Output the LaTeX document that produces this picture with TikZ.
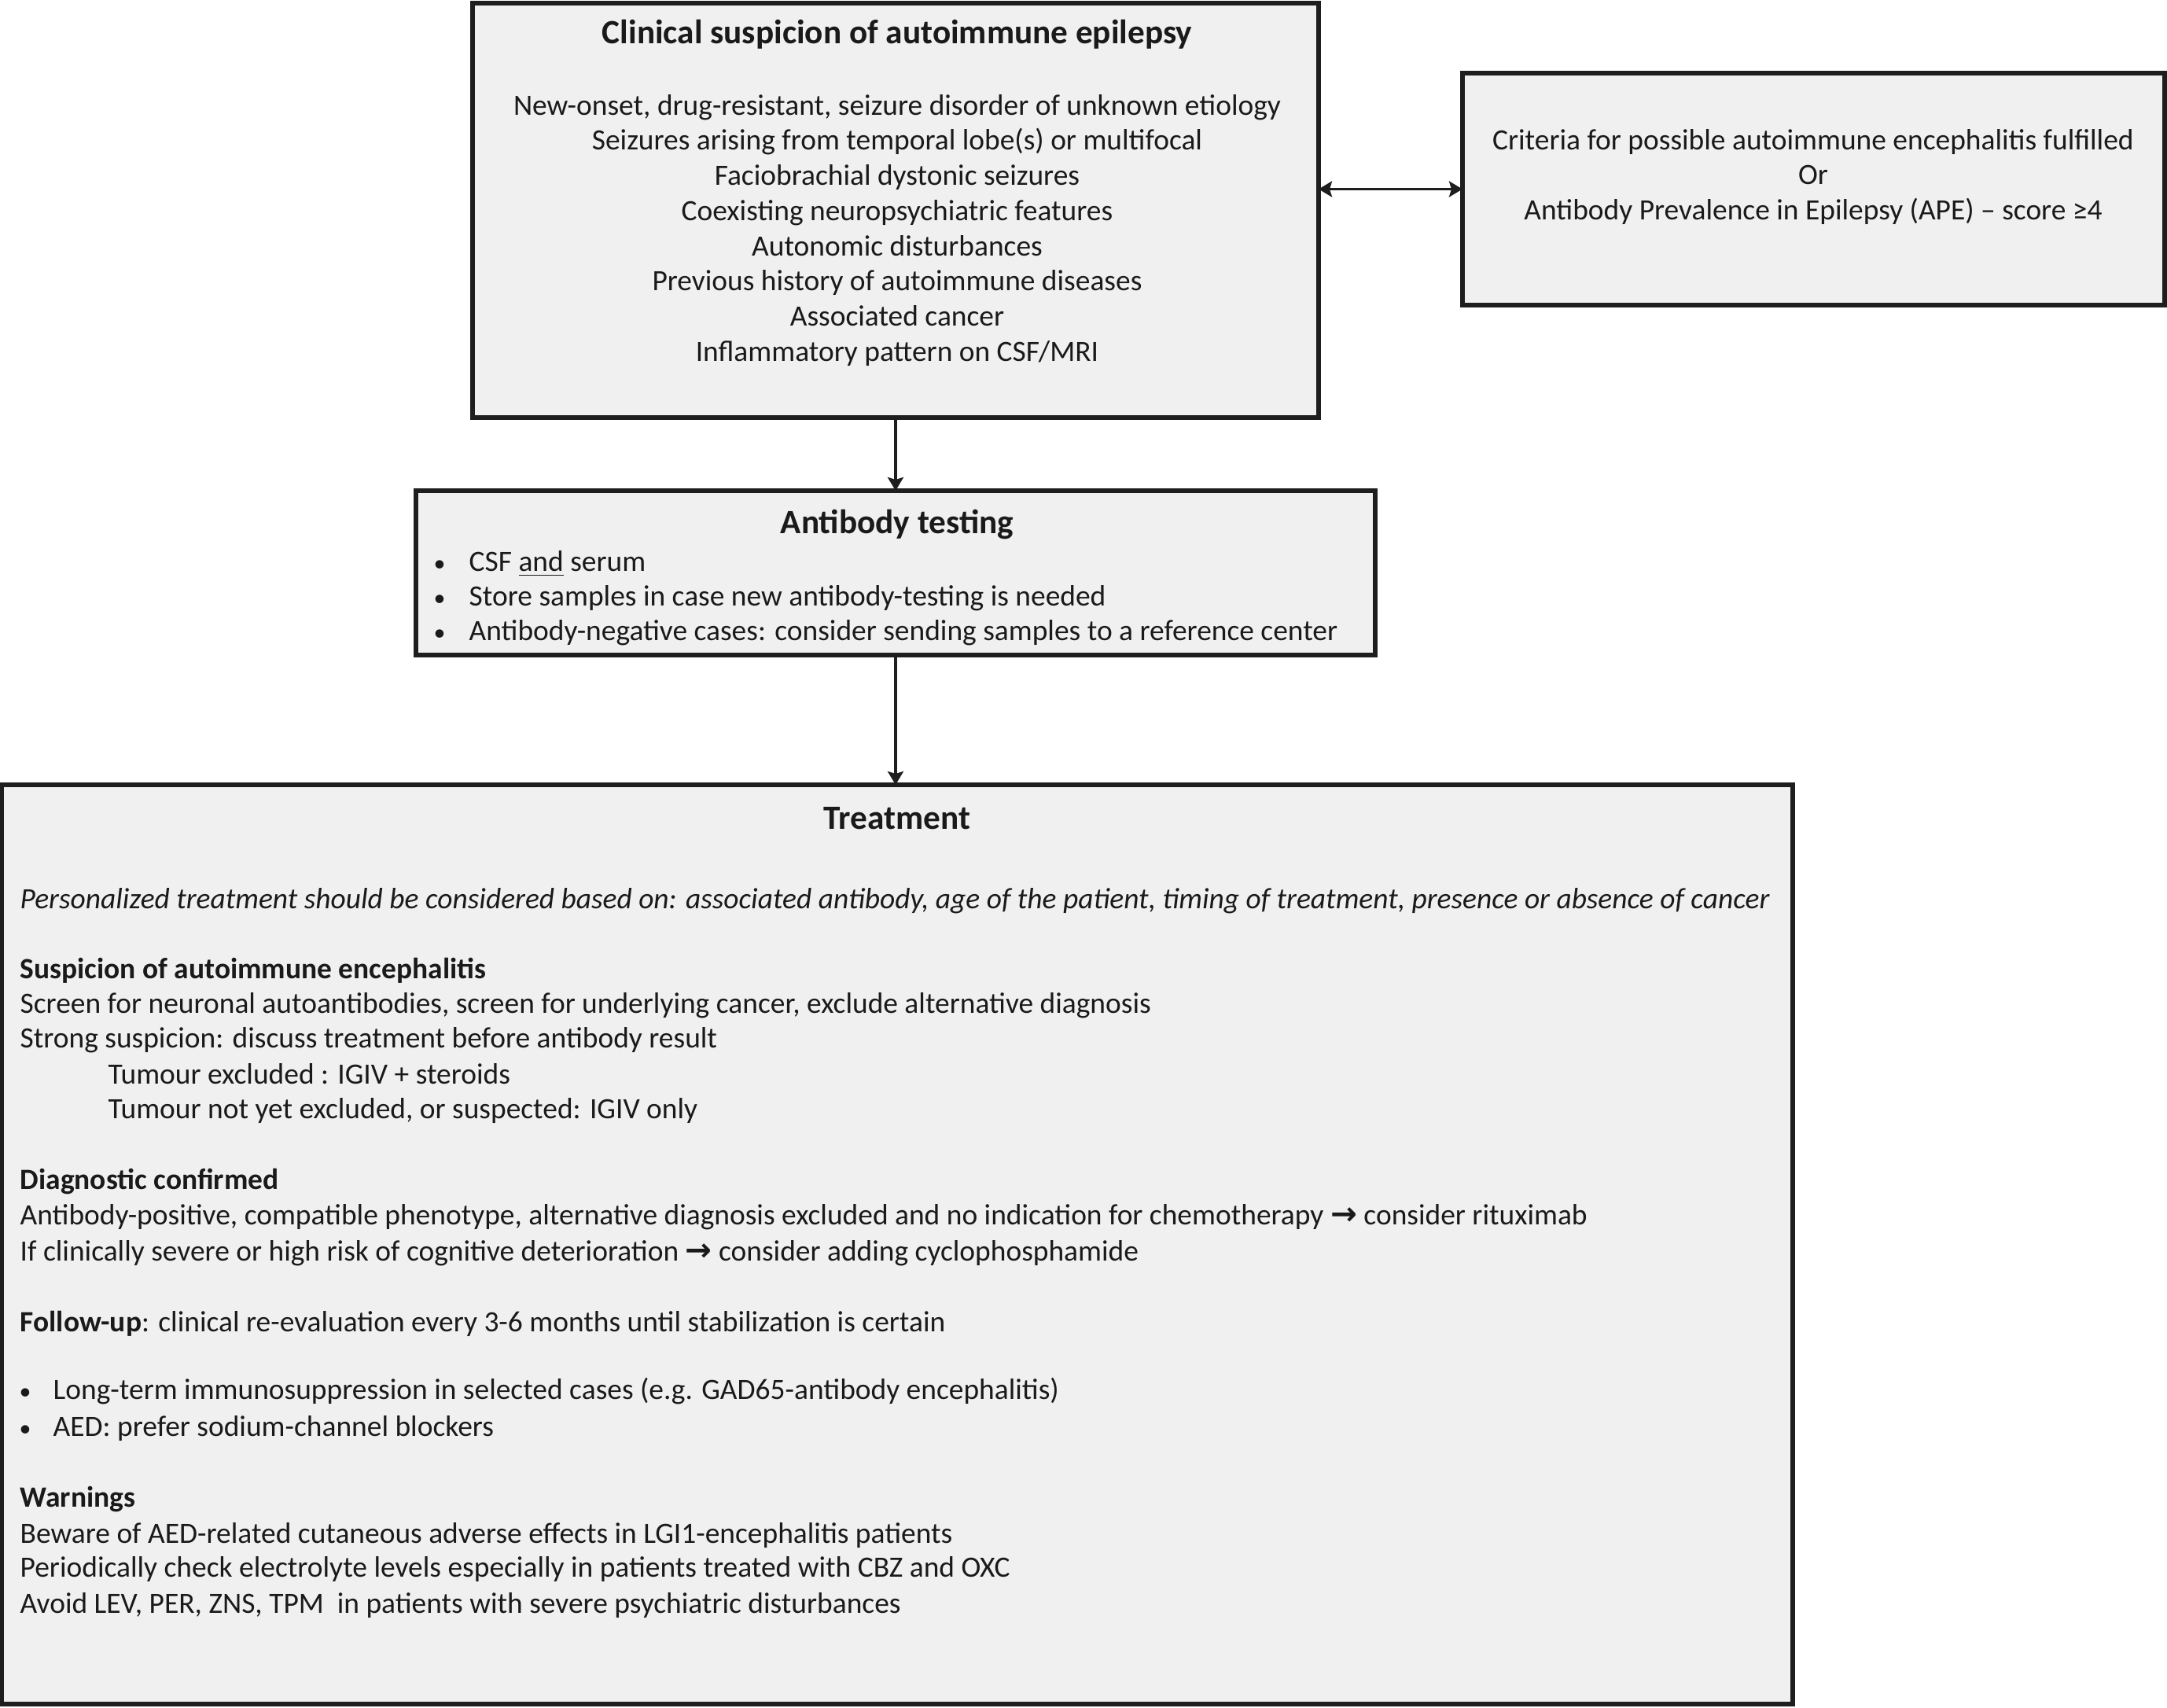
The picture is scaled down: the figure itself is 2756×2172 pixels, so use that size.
\documentclass[tikz,border=0pt]{standalone}
\usepackage{fontspec}
\setmainfont{Carlito}
\newfontfamily\symfont{DejaVu Sans}
\usetikzlibrary{arrows.meta}
\definecolor{boxfill}{HTML}{F0F0F0}
\definecolor{boxline}{HTML}{1E1E1E}
\definecolor{txt}{HTML}{1A1A1A}
\newcommand{\thickarr}{{\symfont\bfseries\fontsize{11.5}{12.7}\selectfont →}}
\tikzset{
  box/.style={draw=boxline, fill=boxfill, line width=0.06cm, inner sep=0pt, outer sep=0pt},
  ln/.style={inner sep=0pt, text height=8pt, text depth=2.2pt, text=txt, font=\fontsize{10.65}{12.7}\selectfont},
  lnl/.style={ln, anchor=west},
  dot/.style={ln, font=\fontsize{8.5}{12.7}\selectfont},
  ttl/.style={inner sep=0pt, text height=9pt, text depth=2.6pt, text=txt, font=\fontsize{12.3}{14.5}\selectfont\bfseries},
  arr/.style={draw=boxline, line width=0.035cm, -{Stealth[length=0.17cm, width=0.2cm, inset=0.03cm]}},
  arrb/.style={draw=boxline, line width=0.035cm, {Stealth[length=0.17cm, width=0.2cm, inset=0.03cm]}-{Stealth[length=0.17cm, width=0.2cm, inset=0.03cm]}}
}
\begin{document}
\begin{tikzpicture}[x=0.01cm, y=-0.01cm]
\useasboundingbox[fill=white] (0,0) rectangle (2756,2172);
% boxes
\node[box, minimum width=1076*0.01cm, minimum height=527*0.01cm] (b1) at (1139,267.5) {};
\node[box, minimum width=893*0.01cm, minimum height=295*0.01cm] (b2) at (2306.5,240.5) {};
\node[box, minimum width=1220*0.01cm, minimum height=209*0.01cm] (b3) at (1139,728.5) {};
\node[box, minimum width=2278*0.01cm, minimum height=1169*0.01cm] (b4) at (1141,1582.5) {};
% connectors
\draw[arr] (b1.south) -- (b3.north);
\draw[arr] (b3.south) -- (b3.south |- b4.north);
\draw[arrb] (b2.west -| b1.east) -- (b2.west);
\begin{scope}[yshift=-0.04cm]
% box 1
\node[ttl] (t1) at (1141,40) {Clinical suspicion of autoimmune epilepsy};
\node[ln] (t1a) at (1141,132) {New-onset, drug-resistant, seizure disorder of unknown etiology};
\node[ln] (t1b) at (1141,176.7) {Seizures arising from temporal lobe(s) or multifocal};
\node[ln] (t1c) at (1141,221.4) {Faciobrachial dystonic seizures};
\node[ln] (t1d) at (1141,266.1) {Coexisting neuropsychiatric features};
\node[ln] (t1e) at (1141,310.8) {Autonomic disturbances};
\node[ln] (t1f) at (1141,355.5) {Previous history of autoimmune diseases};
\node[ln] (t1g) at (1141,400.2) {Associated cancer};
\node[ln] (t1h) at (1141,444.9) {Inflammatory pattern on CSF/MRI};
% box 2
\node[ln] (t2a) at (2306,176) {Criteria for possible autoimmune encephalitis fulfilled};
\node[ln] (t2b) at (2306,220) {Or};
\node[ln] (t2c) at (2306,265) {Antibody Prevalence in Epilepsy (APE) – score ≥4};
% box 3
\node[ttl] (t3) at (1141,663) {Antibody testing};
\node[lnl] (t3a) at (596,712) {CSF \underline{and} serum};
\node[lnl] (t3b) at (596,756) {Store samples in case new antibody-testing is needed};
\node[lnl] (t3c) at (596,800) {Antibody-negative cases: consider sending samples to a reference center};
\node[dot] (d3a) at (559,712) {•};
\node[dot] (d3b) at (559,756) {•};
\node[dot] (d3c) at (559,800) {•};
% box 4
\node[ttl] (t4) at (1141,1039) {Treatment};
\node[lnl] (t4a) at (25,1141) {\itshape Personalized treatment should be considered based on: associated antibody, age of the patient, timing of treatment, presence or absence of cancer};
\node[lnl] (t4b) at (25,1230) {\bfseries Suspicion of autoimmune encephalitis};
\node[lnl] (t4c) at (25,1274) {Screen for neuronal autoantibodies, screen for underlying cancer, exclude alternative diagnosis};
\node[lnl] (t4d) at (25,1318) {Strong suspicion: discuss treatment before antibody result};
\node[lnl] (t4e) at (137,1364) {Tumour excluded : IGIV + steroids};
\node[lnl] (t4f) at (137,1408) {Tumour not yet excluded, or suspected: IGIV only};
\node[lnl] (t4g) at (25,1498) {\bfseries Diagnostic confirmed};
\node[lnl] (t4h) at (25,1543) {Antibody-positive, compatible phenotype, alternative diagnosis excluded and no indication for chemotherapy \thickarr{} consider rituximab};
\node[lnl] (t4i) at (25,1589) {If clinically severe or high risk of cognitive deterioration \thickarr{} consider adding cyclophosphamide};
\node[lnl] (t4j) at (25,1679) {\textbf{Follow-up}: clinical re-evaluation every 3-6 months until stabilization is certain};
\node[dot] (d4k) at (32,1765) {•};
\node[dot] (d4l) at (32,1812) {•};
\node[lnl] (t4k) at (67,1765) {Long-term immunosuppression in selected cases (e.g. GAD65-antibody encephalitis)};
\node[lnl] (t4l) at (67,1812) {AED: prefer sodium-channel blockers};
\node[lnl] (t4m) at (25,1902) {\bfseries Warnings};
\node[lnl] (t4n) at (25,1948) {Beware of AED-related cutaneous adverse effects in LGI1-encephalitis patients};
\node[lnl] (t4o) at (25,1991) {Periodically check electrolyte levels especially in patients treated with CBZ and OXC};
\node[lnl] (t4p) at (25,2037) {Avoid LEV, PER, ZNS, TPM\ \ in patients with severe psychiatric disturbances};
\end{scope}
\end{tikzpicture}
\end{document}
